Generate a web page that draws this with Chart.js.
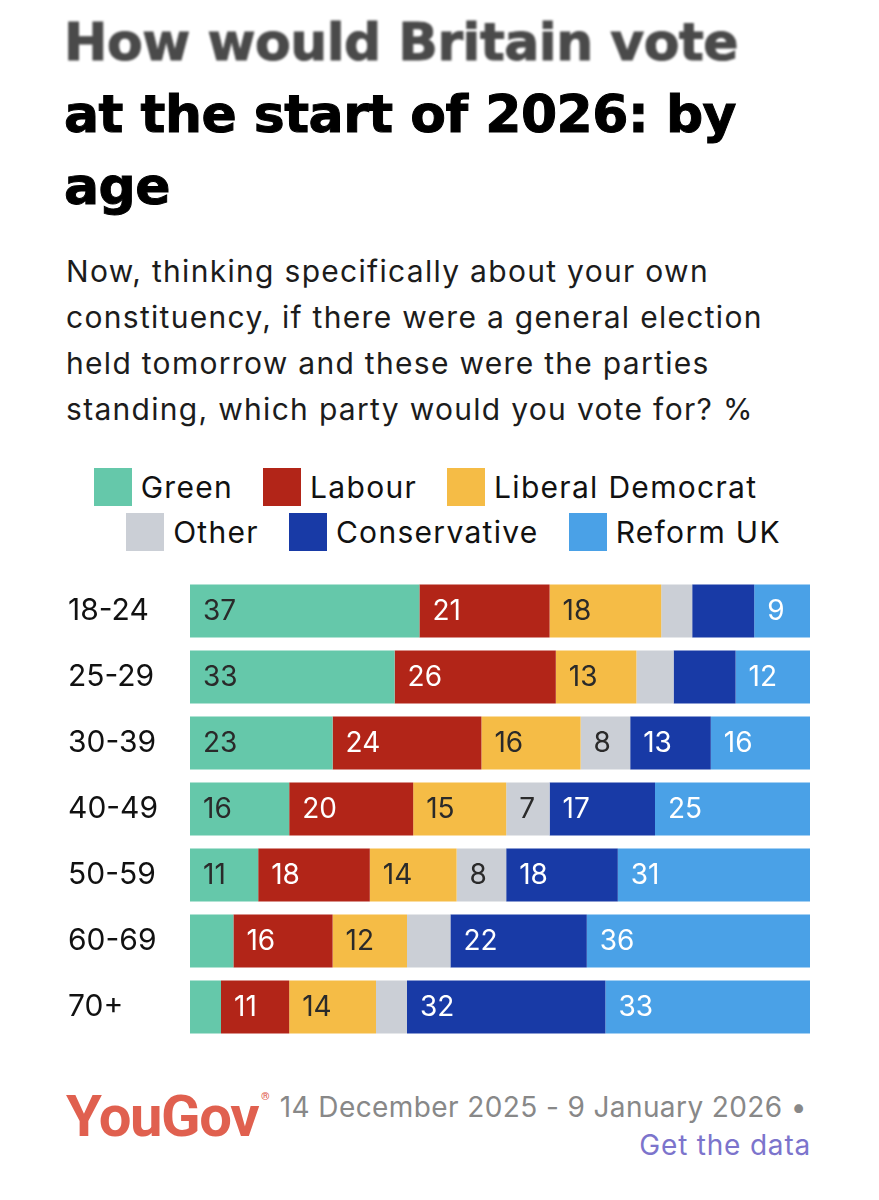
<!DOCTYPE html>
<html>
<head>
<meta charset="utf-8">
<script src="https://cdn.jsdelivr.net/npm/chart.js@4/dist/chart.umd.min.js"></script>
<style>
  body { margin: 0; background: #fff; width: 879px; height: 1200px; position: relative; overflow: hidden; font-family: Inter, sans-serif; }
  #title { position: absolute; left: 64px; top: 6px; width: 800px; font-family: "DejaVu Sans", sans-serif; font-weight: 700; font-size: 52px; line-height: 72px; letter-spacing: -0.5px; -webkit-text-stroke: 1px currentColor; color: #000; margin: 0; white-space: nowrap; }
  #title .fade { color: #4a4a4a; filter: blur(1.2px); }
  #subtitle { position: absolute; left: 66px; top: 248px; font-size: 30px; line-height: 46px; color: #1c1c1c; margin: 0; white-space: nowrap; letter-spacing: 1.3px; }
  #legend { position: absolute; left: 0; top: 464px; width: 879px; font-size: 30px; letter-spacing: 1.3px; color: #111; }
  .lrow { display: flex; justify-content: center; height: 45px; align-items: center; }
  .litem { display: flex; align-items: center; margin: 0 15px; }
  .lbox { width: 38px; height: 38px; margin-right: 9px; }
  #wrap { position: absolute; left: 68px; top: 578px; width: 742px; height: 462px; }
  #logo { position: absolute; left: 66px; top: 1082px; font-family: Roboto, sans-serif; font-weight: 700; font-size: 58px; letter-spacing: -1.4px; color: #e0604f; }
  #logo sup { font-size: 11px; letter-spacing: 0; vertical-align: 36px; margin-left: 3px; }
  #date { position: absolute; right: 72px; top: 1090px; font-size: 28px; letter-spacing: 0.4px; color: #888; }
  #getdata { position: absolute; right: 68px; top: 1128px; font-size: 28px; letter-spacing: 0.8px; color: #7c74cc; }
</style>
</head>
<body>
<h1 id="title"><span class="fade">How would Britain vote</span><br>at the start of 2026: by<br>age</h1>
<p id="subtitle">Now, thinking specifically about your own<br>constituency, if there were a general election<br>held tomorrow and these were the parties<br>standing, which party would you vote for? %</p>
<div id="legend"></div>
<div id="wrap"><canvas id="chart"></canvas></div>
<div id="logo">YouGov<sup>®</sup></div>
<div id="date">14 December 2025 - 9 January 2026 •</div>
<div id="getdata">Get the data</div>
<script>
const ageGroups = ['18-24', '25-29', '30-39', '40-49', '50-59', '60-69', '70+'];

const parties = ['Green', 'Labour', 'Liberal Democrat', 'Other', 'Conservative', 'Reform UK'];
const partyColors = ['#65c8aa', '#b22518', '#f5bc46', '#cbcfd6', '#183aa6', '#4aa1e7'];
const labelColors = ['#2a2a2a', '#ffffff', '#2a2a2a', '#2a2a2a', '#ffffff', '#ffffff'];

const green        = [37, 33, 23, 16, 11, 7, 5];
const labour       = [21, 26, 24, 20, 18, 16, 11];
const libDem       = [18, 13, 16, 15, 14, 12, 14];
const other        = [5, 6, 8, 7, 8, 7, 5];
const conservative = [10, 10, 13, 17, 18, 22, 32];
const reform       = [9, 12, 16, 25, 31, 36, 33];

// segments the original leaves without a number: [party index, row index]
const unlabelled = [[3, 0], [4, 0], [3, 1], [4, 1], [0, 5], [3, 5], [0, 6], [3, 6]];

const series = [green, labour, libDem, other, conservative, reform];

// html legend, two rows like the original (they sit a little off centre)
const legend = document.querySelector('#legend');
[[[0, 1, 2], -14], [[3, 4, 5], 14]].forEach(([row, shift]) => {
    const div = document.createElement('div');
    div.className = 'lrow';
    div.style.transform = 'translateX(' + shift + 'px)';
    row.forEach((i) => {
        const item = document.createElement('div');
        item.className = 'litem';
        item.innerHTML = '<span class="lbox" style="background:' + partyColors[i] + '"></span>' + parties[i];
        div.appendChild(item);
    });
    legend.appendChild(div);
});

const segmentLabels = {
    id: 'segmentLabels',
    afterDatasetsDraw(chart) {
        const ctx = chart.ctx;
        ctx.save();
        ctx.font = '28px Inter';
        ctx.textBaseline = 'middle';
        ctx.textAlign = 'left';
        chart.data.datasets.forEach((ds, di) => {
            chart.getDatasetMeta(di).data.forEach((bar, i) => {
                if (unlabelled.some((u) => u[0] === di && u[1] === i)) return;
                ctx.fillStyle = labelColors[di];
                ctx.fillText(String(ds.data[i]), bar.base + 13, bar.y + 1);
            });
        });
        ctx.restore();
    }
};

const graph = document.querySelector('#chart');
new Chart(graph, {
    type: 'bar',
    data: {
        labels: ageGroups,
        datasets: series.map((values, i) => ({
            label: parties[i],
            data: values,
            backgroundColor: partyColors[i],
            borderWidth: 0,
            barPercentage: 0.8,
            categoryPercentage: 1
        }))
    },
    options: {
        indexAxis: 'y',
        responsive: true,
        maintainAspectRatio: false,
        animation: false,
        layout: { padding: 0 },
        plugins: {
            legend: { display: false },
            tooltip: { enabled: false }
        },
        scales: {
            x: {
                stacked: true,
                display: false,
                min: 0,
                max: 100
            },
            y: {
                stacked: true,
                grid: { display: false },
                border: { display: false },
                afterFit: (scale) => {
                    scale.width = 122;
                    scale.paddingTop = 0;
                    scale.paddingBottom = 0;
                },
                ticks: {
                    crossAlign: 'far',
                    color: '#111',
                    padding: 10,
                    font: { family: 'Inter', size: 30 }
                }
            }
        }
    },
    plugins: [segmentLabels]
});
</script>
</body>
</html>
